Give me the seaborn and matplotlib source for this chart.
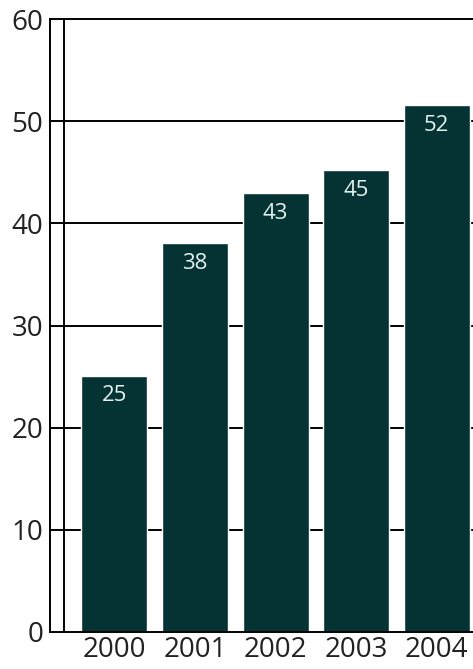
import matplotlib
matplotlib.use("Agg")
import matplotlib.pyplot as plt
import seaborn as sns
import pandas as pd

years = ["2000", "2001", "2002", "2003", "2004"]
values = [25.1, 38.1, 43.0, 45.2, 51.6]
labels = ["25", "38", "43", "45", "52"]
yticks = [0, 10, 20, 30, 40, 50, 60]

sns.set_style("white")
plt.rcParams['font.family'] = ['Open Sans', 'DejaVu Sans']

bar_color = "#053334"
df = pd.DataFrame({"year": years, "value": values})

fig = plt.figure(figsize=(4.73, 6.69), dpi=100)
ax = fig.add_axes([50 / 473, 37 / 669, 1 - 50 / 473, (632 - 19) / 669])

# gridlines below the bars
for t in yticks[1:-1]:
    ax.axhline(t, color="black", lw=1.4, zorder=0)
ax.axvline(-0.626, color="black", lw=1.4, zorder=0)

sns.barplot(data=df, x="year", y="value", color=bar_color, saturation=1,
            width=0.82, ax=ax, zorder=2)

for i, (v, lab) in enumerate(zip(values, labels)):
    ax.text(i, v - 2.0, lab, ha="center", va="center", color="#e4f2ee",
            fontsize=16, zorder=3)

ax.set_xlim(-0.80, 4.45)
ax.set_ylim(0, 60)
ax.set_yticks(yticks)
ax.set_xlabel("")
ax.set_ylabel("")
ax.tick_params(axis="both", length=0, labelsize=20, colors="#222222")
ax.tick_params(axis="y", pad=5)
ax.tick_params(axis="x", pad=3)

for side in ["left", "top", "bottom"]:
    ax.spines[side].set_color("black")
    ax.spines[side].set_linewidth(1.4)
ax.spines["right"].set_visible(False)

fig.savefig("out.png", dpi=100)
